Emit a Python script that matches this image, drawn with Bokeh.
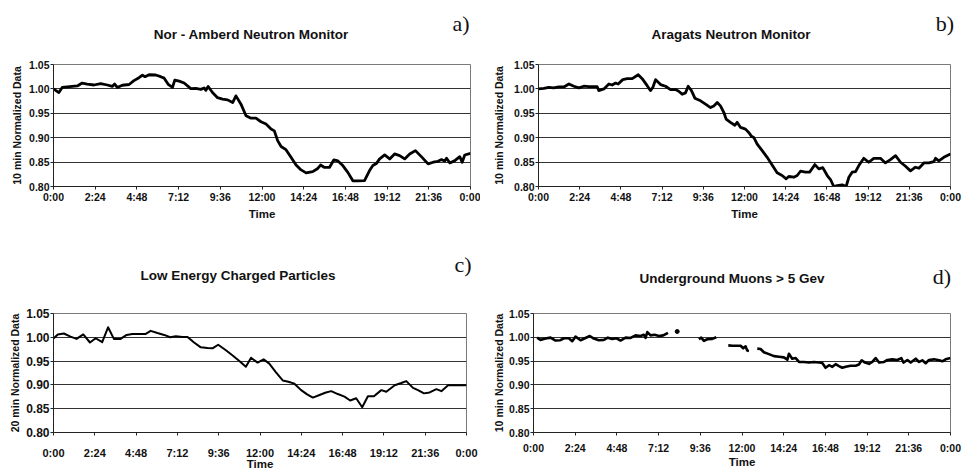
import math
from bokeh.plotting import figure
from bokeh.models import FixedTicker, CustomJSTickFormatter, NumeralTickFormatter, Range1d, Div
from bokeh.layouts import column, row
from bokeh.embed import file_html
from bokeh.resources import INLINE

# ---------------- data (time in hours, values normalized) ----------------
nor_t = [0.00, 0.31, 0.50, 0.79, 1.08, 1.37, 1.65, 1.94, 2.33, 2.71, 3.10, 3.38, 3.52, 3.67, 3.96,
         4.35, 4.63, 4.92, 5.12, 5.27, 5.50, 5.88, 6.17, 6.37, 6.60, 6.85, 6.98, 7.23, 7.52, 7.90,
         8.19, 8.48, 8.67, 8.77, 8.90, 9.15, 9.44, 9.73, 10.02, 10.31, 10.50, 10.79, 11.08, 11.37,
         11.65, 11.94, 12.23, 12.52, 12.71, 12.90, 13.10, 13.38, 13.67, 13.96, 14.25, 14.54, 14.92,
         15.21, 15.37, 15.60, 15.88, 16.13, 16.37, 16.65, 16.94, 17.23, 17.52, 17.90, 18.19, 18.38,
         18.58, 18.77, 19.06, 19.35, 19.63, 19.92, 20.21, 20.50, 20.83, 21.17, 21.56, 21.85, 22.13,
         22.33, 22.52, 22.62, 22.81, 23.10, 23.38, 23.52, 23.67, 24.00]
nor_v = [1.000, 0.9925, 1.003, 1.004, 1.005, 1.006, 1.012, 1.010, 1.008, 1.011, 1.008, 1.005, 1.010,
         1.003, 1.0075, 1.009, 1.017, 1.023, 1.028, 1.025, 1.029, 1.0285, 1.025, 1.022, 1.0095, 1.003,
         1.018, 1.016, 1.012, 1.0007, 1.001, 0.999, 1.002, 0.997, 1.005, 0.9925, 0.982, 0.979, 0.9775,
         0.972, 0.9857, 0.9687, 0.945, 0.940, 0.940, 0.9327, 0.928, 0.9177, 0.914, 0.894, 0.882,
         0.8755, 0.860, 0.8442, 0.834, 0.828, 0.8306, 0.837, 0.844, 0.839, 0.839, 0.8544, 0.8524,
         0.8429, 0.829, 0.8116, 0.8116, 0.812, 0.8327, 0.843, 0.847, 0.8565, 0.8646, 0.8565, 0.8667,
         0.8633, 0.8565, 0.8667, 0.8735, 0.8612, 0.8463, 0.8497, 0.8517, 0.8551, 0.8524, 0.8578,
         0.8483, 0.853, 0.8612, 0.8497, 0.8646, 0.868]

arg_t = [0.00, 0.31, 0.60, 0.89, 1.18, 1.48, 1.77, 2.06, 2.35, 2.64, 2.93, 3.42, 3.51, 3.81, 4.10,
         4.29, 4.49, 4.64, 4.91, 5.17, 5.46, 5.81, 6.04, 6.33, 6.52, 6.66, 6.82, 7.11, 7.40, 7.69,
         7.98, 8.17, 8.37, 8.56, 8.72, 8.91, 9.11, 9.44, 9.73, 10.02, 10.21, 10.41, 10.60, 10.80,
         10.93, 11.18, 11.44, 11.57, 11.77, 12.06, 12.25, 12.41, 12.54, 12.74, 13.03, 13.32, 13.61,
         13.90, 14.19, 14.43, 14.58, 14.87, 15.07, 15.26, 15.55, 15.79, 16.10, 16.33, 16.56, 16.82,
         17.01, 17.20, 17.40, 17.69, 17.92, 18.08, 18.27, 18.47, 18.66, 18.95, 19.24, 19.53, 19.92,
         20.21, 20.50, 20.80, 21.09, 21.38, 21.67, 21.96, 22.16, 22.45, 22.74, 23.03, 23.13, 23.32,
         23.61, 24.00]
arg_v = [1.000, 1.001, 1.003, 1.002, 1.004, 1.004, 1.010, 1.0055, 1.002, 1.0055, 1.0045, 1.0045,
         0.9966, 1.000, 1.010, 1.008, 1.012, 1.010, 1.019, 1.021, 1.021, 1.029, 1.021, 1.0066, 0.9966,
         1.003, 1.019, 1.0088, 1.0055, 0.9986, 0.9986, 0.9952, 0.989, 0.9918, 1.0055, 0.9966, 0.981,
         0.9755, 0.9687, 0.9618, 0.9652, 0.972, 0.9652, 0.9516, 0.938, 0.9315, 0.9255, 0.9315, 0.921,
         0.9176, 0.9108, 0.9027, 0.9006, 0.887, 0.8734, 0.8598, 0.8442, 0.828, 0.8225, 0.8157, 0.8205,
         0.819, 0.8225, 0.8313, 0.8293, 0.8293, 0.8449, 0.836, 0.8388, 0.8225, 0.8143, 0.800, 0.802,
         0.8035, 0.800, 0.819, 0.8293, 0.8306, 0.8429, 0.8578, 0.8497, 0.8578, 0.8578, 0.8483, 0.855,
         0.8633, 0.8497, 0.8415, 0.832, 0.8395, 0.8374, 0.8483, 0.8483, 0.851, 0.8578, 0.8524, 0.8598,
         0.8667]

lecp_t = [0.00, 0.25, 0.60, 0.99, 1.34, 1.73, 2.12, 2.45, 2.83, 3.17, 3.51, 3.90, 4.25, 4.58, 4.97,
          5.36, 5.65, 6.04, 6.43, 6.78, 7.11, 7.50, 7.79, 8.17, 8.56, 8.95, 9.24, 9.57, 10.02, 10.41,
          10.80, 11.18, 11.48, 11.86, 12.21, 12.54, 12.93, 13.32, 13.65, 14.00, 14.39, 14.74, 15.07,
          15.46, 15.79, 16.14, 16.52, 16.91, 17.24, 17.59, 17.94, 18.27, 18.62, 19.05, 19.34, 19.83,
          20.21, 20.50, 20.89, 21.18, 21.53, 21.86, 22.25, 22.54, 22.93, 23.32, 24.00]
lecp_v = [0.9975, 1.006, 1.008, 1.0014, 0.9966, 1.006, 0.9891, 0.998, 0.9898, 1.021, 0.9966, 0.9966,
          1.005, 1.007, 1.007, 1.007, 1.0136, 1.0089, 1.005, 1.000, 1.002, 1.0007, 1.0007, 0.9891,
          0.9789, 0.9775, 0.9768, 0.9843, 0.9727, 0.9618, 0.9503, 0.938, 0.9571, 0.9469, 0.9537,
          0.9448, 0.9264, 0.9094, 0.9067, 0.9026, 0.889, 0.8801, 0.8733, 0.8788, 0.8835, 0.8869,
          0.8808, 0.8753, 0.8672, 0.8719, 0.8529, 0.876, 0.876, 0.889, 0.8856, 0.8992, 0.9039, 0.908,
          0.8937, 0.889, 0.8822, 0.8842, 0.891, 0.8869, 0.8992, 0.8992, 0.8992]

NaN = float("nan")
muon_t = [0.21, 0.40, 0.69, 0.98, 1.27, 1.55, 1.75, 2.03, 2.23, 2.42, 2.71, 2.99, 3.24, 3.47, 3.76,
          4.05, 4.28, 4.53, 4.78, 5.01, 5.30, 5.59, 5.87, 6.16, 6.35, 6.45, 6.55, 6.74, 6.97, 7.22,
          7.47, 7.74, NaN, 8.27, NaN, 9.52, 9.65, 9.81, 10.00, 10.29, 10.52, NaN, 11.21, 11.44, 11.73,
          11.92, 12.07, 12.21, 12.30, 12.40, NaN, 12.88, 13.07, 13.26, 13.55, 13.84, 14.13, 14.41,
          14.61, 14.70, 14.89, 15.09, 15.28, 15.57, 15.85, 16.14, 16.43, 16.62, 16.81, 17.01, 17.20,
          17.39, 17.58, 17.77, 17.97, 18.25, 18.54, 18.73, 18.89, 19.08, 19.31, 19.50, 19.69, 19.89,
          20.17, 20.37, 20.65, 20.94, 21.17, 21.29, 21.52, 21.71, 22.00, 22.19, 22.38, 22.57, 22.76,
          23.05, 23.34, 23.53, 23.72, 24.00]
muon_v = [0.9993, 0.9946, 0.9973, 0.9993, 0.9932, 0.9939, 0.998, 0.998, 0.9918, 1.0014, 0.9939,
          0.9986, 1.0027, 0.9973, 0.9939, 0.9946, 0.9993, 0.9966, 0.998, 0.9932, 0.9993, 0.9986,
          1.0041, 1.0027, 1.0054, 0.9986, 1.0109, 1.0041, 1.0054, 1.0027, 1.0041, 1.0095, NaN, 1.0122,
          NaN, 0.9959, 0.9993, 0.9925, 0.9959, 0.9966, 1.000, NaN, 0.983, 0.9823, 0.9823, 0.9823,
          0.9769, 0.981, 0.9721, 0.9714, NaN, 0.9762, 0.9755, 0.9687, 0.9646, 0.9605, 0.9591, 0.9578,
          0.953, 0.9653, 0.955, 0.9564, 0.9482, 0.9482, 0.9469, 0.9482, 0.9469, 0.9462, 0.936, 0.9414,
          0.938, 0.9435, 0.9394, 0.936, 0.938, 0.9401, 0.9401, 0.9428, 0.9517, 0.9469, 0.9442, 0.9482,
          0.9564, 0.9469, 0.9482, 0.9523, 0.9537, 0.9523, 0.9564, 0.9469, 0.9523, 0.9469, 0.955,
          0.9482, 0.9517, 0.9455, 0.9523, 0.9537, 0.9517, 0.9496, 0.9537, 0.9564]

x_ticks = [0, 2.4, 4.8, 7.2, 9.6, 12, 14.4, 16.8, 19.2, 21.6, 24]
y_ticks = [0.80, 0.85, 0.90, 0.95, 1.00, 1.05]
titles = ["Nor - Amberd Neutron Monitor", "Aragats Neutron Monitor",
          "Low Energy Charged Particles", "Underground Muons > 5 Gev"]
tags = ["a)", "b)", "c)", "d)"]
ylabels = ["10 min Normalized Data", "10 min Normalized Data",
           "20 min Normalized Data", "10 min Normalized Data"]
xlabel = "Time"

SANS = "Liberation Sans"
SERIF = "Liberation Serif"

TIME_FMT = CustomJSTickFormatter(code="""
const m = Math.round(tick * 60) % 1440;
const h = Math.floor(m / 60);
const mm = m % 60;
return h + ":" + (mm < 10 ? "0" : "") + mm;
""")


def panel(t, v, ylabel, geo):
    p = figure(width=geo["w"], height=geo["h"], output_backend="svg", toolbar_location=None,
               x_range=Range1d(0, 24), y_range=Range1d(0.80, 1.05),
               min_border_left=geo["bl"], min_border_right=geo["br"],
               min_border_top=geo["bt"], min_border_bottom=geo["bb"], margin=0)
    p.background_fill_color = "white"
    p.border_fill_color = "white"
    p.outline_line_color = "#7a7a7a"
    p.outline_line_width = 1
    p.xgrid.visible = False
    p.ygrid.grid_line_color = "#333333"
    p.ygrid.grid_line_width = 1
    p.ygrid.ticker = FixedTicker(ticks=y_ticks)

    p.xaxis.ticker = FixedTicker(ticks=x_ticks)
    p.xaxis.formatter = TIME_FMT
    p.yaxis.ticker = FixedTicker(ticks=y_ticks)
    p.yaxis.formatter = NumeralTickFormatter(format="0.00")
    for ax in (p.xaxis[0], p.yaxis[0]):
        ax.axis_line_color = "#222222"
        ax.axis_line_width = 1
        ax.major_tick_line_color = "#222222"
        ax.major_tick_in = 0
        ax.major_tick_out = 3
        ax.minor_tick_line_color = None
        ax.major_label_text_font = SANS
        ax.major_label_text_font_style = "bold"
        ax.major_label_text_color = "#111111"
        ax.axis_label_text_font = SANS
        ax.axis_label_text_font_style = "bold"
        ax.axis_label_text_color = "#111111"
    p.xaxis.major_label_text_font_size = geo["xfs"]
    p.yaxis.major_label_text_font_size = geo["yfs"]
    p.xaxis.major_label_standoff = geo["xso"]
    p.yaxis.major_label_standoff = 1
    p.yaxis.axis_label = ylabel
    p.yaxis.axis_label_text_font_size = "10.5px"
    p.yaxis.axis_label_standoff = geo["yls"]
    p.xaxis.axis_label = xlabel
    p.xaxis.axis_label_text_font_size = "11.5px"
    p.xaxis.axis_label_standoff = geo["xls"]

    p.line(t, v, line_color="black", line_width=geo["lw"], line_join="round")
    # isolated samples (neighbours missing) drawn as dots
    iso_t, iso_v = [], []
    for i in range(len(t)):
        if math.isnan(v[i]):
            continue
        prev_nan = i == 0 or math.isnan(v[i - 1])
        next_nan = i == len(t) - 1 or math.isnan(v[i + 1])
        if prev_nan and next_nan:
            iso_t.append(t[i]); iso_v.append(v[i])
    if iso_t:
        p.scatter(iso_t, iso_v, size=4, color="black")
    return p


def header(w, h, items):
    spans = []
    for text, cx, cy, serif in items:
        if serif:
            st = f"font-family:'{SERIF}';font-size:22px;font-weight:normal;"
        else:
            st = f"font-family:'{SANS}';font-size:13.5px;font-weight:bold;"
        spans.append(
            f'<span style="position:absolute;left:{cx}px;top:{cy}px;transform:translate(-50%,-50%);'
            f'white-space:nowrap;color:#111;line-height:1;{st}">{text.replace(">", "&gt;")}</span>')
    html = f'<div style="position:relative;width:{w}px;height:{h}px;">' + "".join(spans) + "</div>"
    return Div(text=html, width=w, height=h, margin=0)


geo_a = dict(w=480, h=188, bl=53, br=10, bt=16, bb=50, xfs="10.5px", yfs="10.5px", xso=1, yls=3,
             xls=2, lw=2.8)
geo_b = dict(w=485, h=188, bl=58, br=15, bt=16, bb=50, xfs="10.5px", yfs="10.5px", xso=1, yls=6,
             xls=2, lw=2.8)
geo_c = dict(w=480, h=182, bl=53, br=14, bt=23, bb=38, xfs="11px", yfs="12px", xso=11, yls=2,
             xls=-4, lw=2.0)
geo_d = dict(w=485, h=182, bl=53, br=15, bt=23, bb=38, xfs="10.5px", yfs="10.5px", xso=6, yls=1,
             xls=-1, lw=2.6)

pa = panel(nor_t, nor_v, ylabels[0], geo_a)
pb = panel(arg_t, arg_v, ylabels[1], geo_b)
pc = panel(lecp_t, lecp_v, ylabels[2], geo_c)
pd = panel(muon_t, muon_v, ylabels[3], geo_d)

top_head = header(965, 48, [(titles[0], 251, 35, False), (tags[0], 461, 24, True),
                            (titles[1], 731, 35, False), (tags[1], 945, 24, True)])
bot_head = header(965, 54, [(titles[2], 238, 40, False), (tags[2], 463, 29, True),
                            (titles[3], 732, 43, False), (tags[3], 942, 41, True)])

layout = column(top_head, row(pa, pb, spacing=0), bot_head, row(pc, pd, spacing=0), spacing=0)
open("out.html", "w").write(file_html(layout, INLINE))
